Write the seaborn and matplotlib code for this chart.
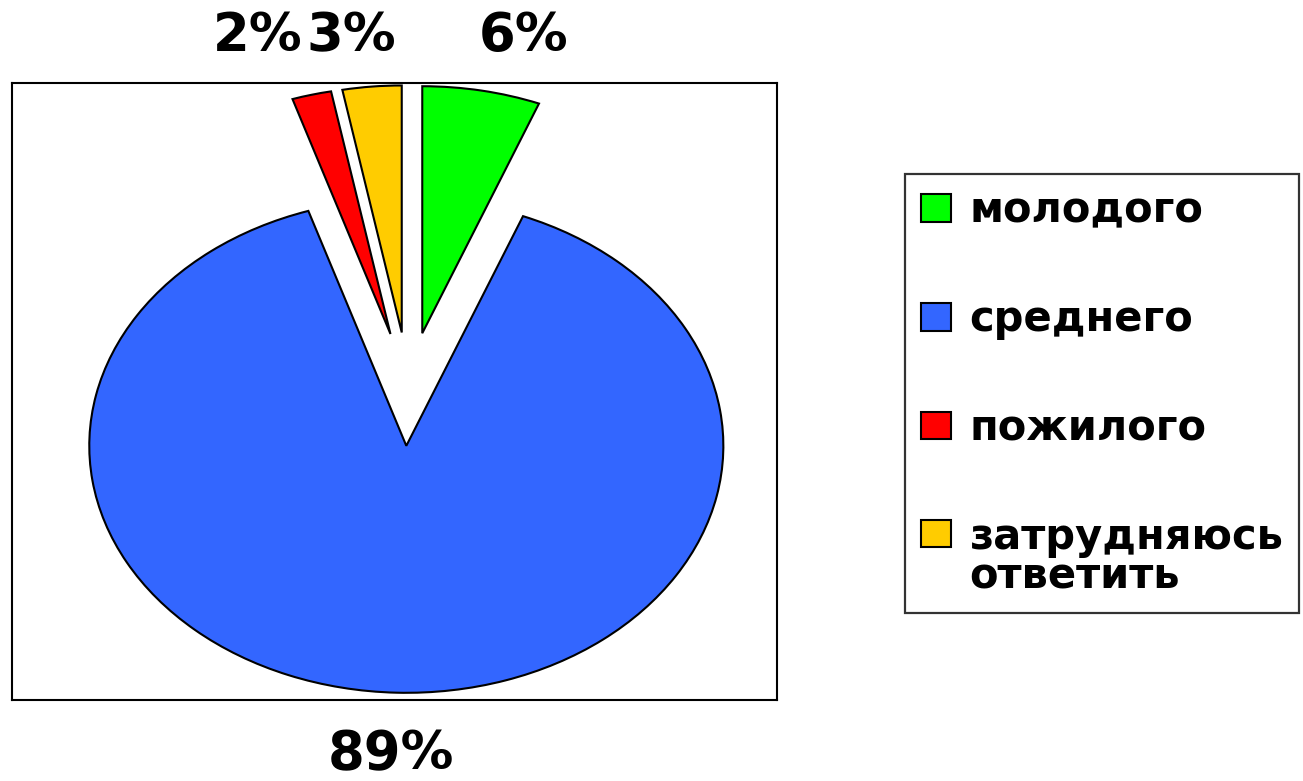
import matplotlib
matplotlib.use("Agg")
import matplotlib.pyplot as plt
import seaborn as sns

sns.set_theme(style="white")
plt.rcParams['font.family'] = ['DejaVu Sans']
plt.rcParams['text.color'] = 'black'

# Data
categories = ["молодого", "среднего", "пожилого", "затрудняюсь\nответить"]
values = [6, 89, 2, 3]
colors = ["#00FF00", "#3366FF", "#FF0000", "#FFCC00"]
explode = [0.23, 0.23, 0.23, 0.23]

W, H = 1303, 781
fig = plt.figure(figsize=(W / 100, H / 100), dpi=100)
fig.patch.set_facecolor("white")

# plot area box (pixels): left 12, top 83, right 777, bottom 700
L, T, R, B = 12, 83, 777, 700
ax = fig.add_axes([L / W, 1 - B / H, (R - L) / W, (B - T) / H])

wedges, _ = ax.pie(values, colors=colors, startangle=90, counterclock=False,
                   explode=explode,
                   wedgeprops=dict(edgecolor="black", linewidth=1.5))
ax.set_aspect("auto")
ax.set_xlim(-1.251, 1.162)
ax.set_ylim(-1.259, 1.239)
ax.set_frame_on(True)
for s in ax.spines.values():
    s.set_visible(True)
    s.set_color("black")
    s.set_linewidth(1.5)
ax.set_xticks([])
ax.set_yticks([])

# percentage labels
label_pos = [(524, 36), (391, 754), (258, 36), (351, 36)]
for v, (px, py) in zip(values, label_pos):
    fig.text(px / W, 1 - py / H, f"{v}%", ha="center", va="center",
             fontsize=38, fontweight="bold", color="black")

fs = 30
leg = fig.legend(wedges, categories, loc="upper left",
                 bbox_to_anchor=(905 / W, 1 - 174 / H),
                 prop=dict(size=fs, weight="bold"),
                 frameon=True, fancybox=False, edgecolor="black",
                 handlelength=0.72, handleheight=0.64, handletextpad=0.45,
                 labelspacing=1.6, borderpad=0.38, borderaxespad=0)
frame = leg.get_frame()
frame.set_linewidth(1.6)
frame.set_edgecolor("black")
for t in leg.get_texts():
    t.set_color("black")
    t.set_linespacing(0.92)
# align the last marker with the first line of its two-line label
h = leg.legend_handles[3]
h.set_y(h.get_y() + 0.6 * fs)

fig.savefig("out.png", dpi=100, facecolor="white")
